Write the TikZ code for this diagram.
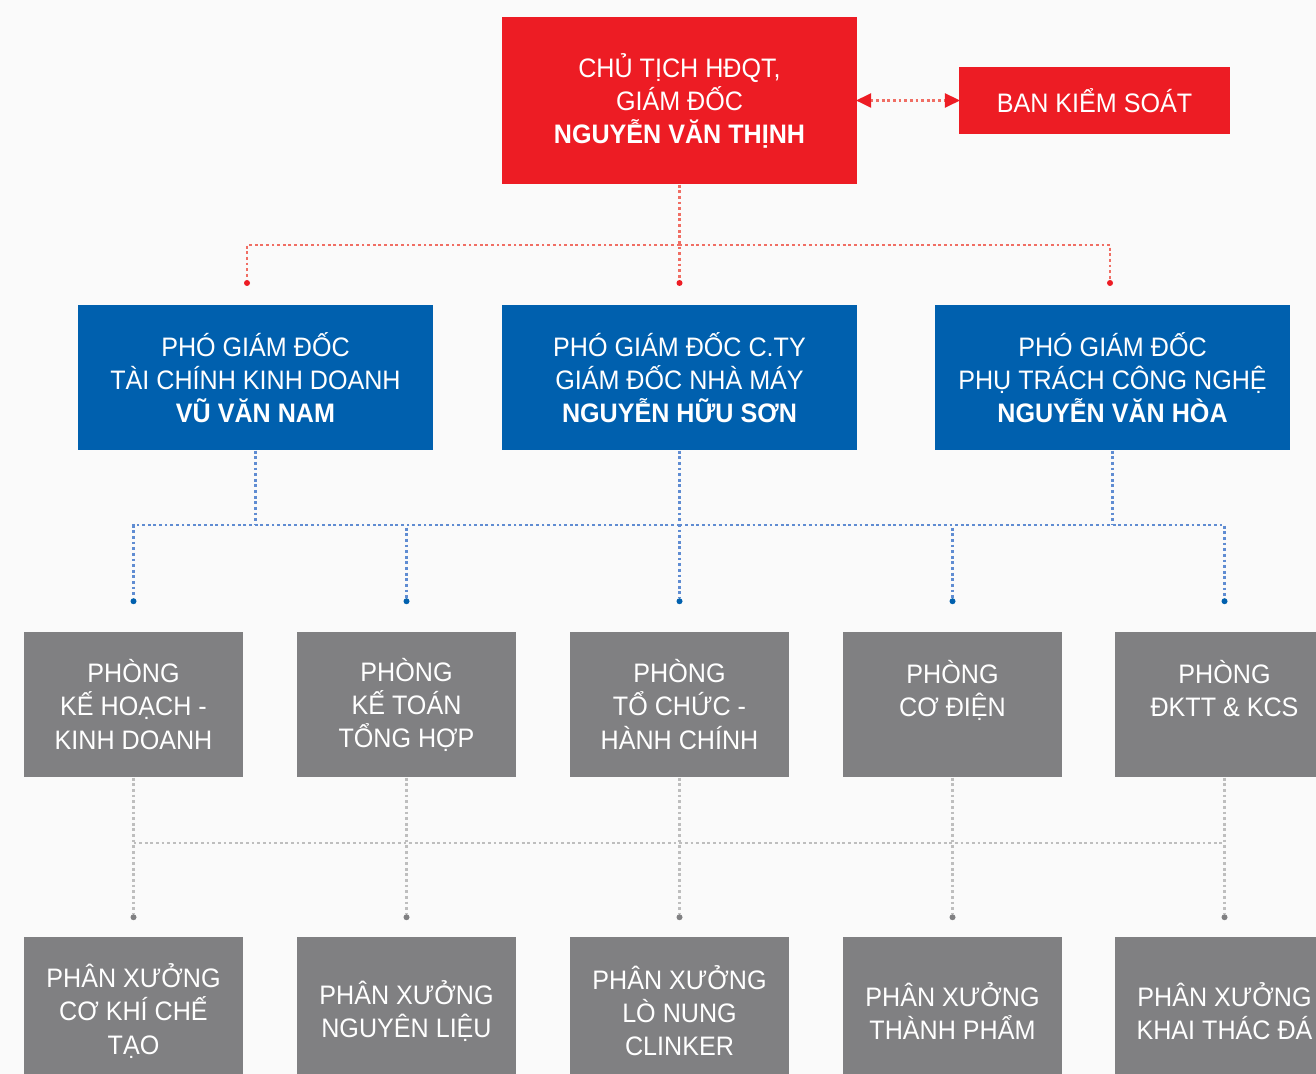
\documentclass[tikz,border=0pt]{standalone}
\usepackage{fontspec}
\setmainfont{Liberation Sans}[FakeStretch=0.94]
\usetikzlibrary{arrows.meta}

\definecolor{bossred}{RGB}{237,28,36}
\definecolor{vpblue}{RGB}{0,96,174}
\definecolor{deptgrey}{RGB}{128,128,130}
\definecolor{pagebg}{RGB}{250,250,250}

\begin{document}
\begin{tikzpicture}[x=0.01cm,y=-0.01cm,
			every node/.style={font=\fontsize{7.6}{9.4}\selectfont, text=white, align=center, inner sep=0pt},
			redbox/.style={fill=bossred, minimum height=1.67cm},
			bluebox/.style={fill=vpblue, minimum width=3.55cm, minimum height=1.45cm},
			greybox/.style={fill=deptgrey, minimum width=2.19cm, minimum height=1.45cm},
			dotnode/.style={circle, inner sep=0pt, minimum size=0.06cm},
			redline/.style={draw={rgb,255:red,240;green,110;blue,100}, line width=0.6pt, dash pattern=on 0.8pt off 0.8pt},
			blueline/.style={draw={rgb,255:red,95;green,140;blue,210}, line width=0.6pt, dash pattern=on 0.8pt off 0.8pt},
			greyline/.style={draw={rgb,255:red,190;green,190;blue,190}, line width=0.6pt, dash pattern=on 0.8pt off 0.8pt}]
			\fill[pagebg] (0,0) rectangle (1316,1074);
			\clip (0,0) rectangle (1316,1074);

			% top level
			\node[redbox, minimum width=3.55cm] (chair) at (679.5,100.5)
				{CHỦ TỊCH HĐQT,\\GIÁM ĐỐC\\\textbf{NGUYỄN VĂN THỊNH}};
			\node[redbox, minimum width=2.71cm, minimum height=0.67cm] (control) at (1094.5,100.5)
				{BAN KIỂM SOÁT};
			\draw[redline, {Triangle[length=0.15cm,width=0.14cm,color=bossred,sep=-0.5pt]}-{Triangle[length=0.15cm,width=0.14cm,color=bossred,sep=-0.5pt]}]
				(chair.east) -- (control.west);

			% deputy directors
			\node[bluebox] (vp1) at (255.5,377.5)
				{PHÓ GIÁM ĐỐC\\TÀI CHÍNH KINH DOANH\\\textbf{VŨ VĂN NAM}};
			\node[bluebox] (vp2) at (679.5,377.5)
				{PHÓ GIÁM ĐỐC C.TY\\GIÁM ĐỐC NHÀ MÁY\\\textbf{NGUYỄN HỮU SƠN}};
			\node[bluebox] (vp3) at (1112.5,377.5)
				{PHÓ GIÁM ĐỐC\\PHỤ TRÁCH CÔNG NGHỆ\\\textbf{NGUYỄN VĂN HÒA}};

			% departments
			\node[greybox] (dp1) at (133.5,704.5) {PHÒNG\\KẾ HOẠCH -\\KINH DOANH};
			\node[greybox] (dp2) at (406.5,704.5) {PHÒNG\\KẾ TOÁN\\TỔNG HỢP};
			\node[greybox] (dp3) at (679.5,704.5) {PHÒNG\\TỔ CHỨC -\\HÀNH CHÍNH};
			\node[greybox] (dp4) at (952.5,704.5) {PHÒNG\\CƠ ĐIỆN\\\mbox{}};
			\node[greybox] (dp5) at (1224.5,704.5) {PHÒNG\\ĐKTT \& KCS\\\mbox{}};

			% workshops
			\node[greybox, minimum height=1.48cm] (ws1) at (133.5,1011) {PHÂN XƯỞNG\\CƠ KHÍ CHẾ\\TẠO};
			\node[greybox, minimum height=1.48cm] (ws2) at (406.5,1011) {PHÂN XƯỞNG\\NGUYÊN LIỆU};
			\node[greybox, minimum height=1.48cm] (ws3) at (679.5,1011) {PHÂN XƯỞNG\\LÒ NUNG\\CLINKER};
			\node[greybox, minimum height=1.48cm] (ws4) at (952.5,1011) {PHÂN XƯỞNG\\THÀNH PHẨM};
			\node[greybox, minimum height=1.48cm] (ws5) at (1224.5,1011) {PHÂN XƯỞNG\\KHAI THÁC ĐÁ};

			% red connectors
			\coordinate (redbus) at (679.5,245);
			\foreach \i/\xx in {1/247,2/679.5,3/1110}
				\node[dotnode, fill=bossred] (rd\i) at (\xx,283) {};
			\draw[redline] (chair.south) -- (rd2);
			\draw[redline] (redbus) -| (rd1);
			\draw[redline] (redbus) -| (rd3);

			% blue connectors
			\coordinate (bluebus) at (679.5,525);
			\foreach \i in {1,...,5}
				\node[dotnode, fill=vpblue] (bd\i) at ([yshift=3mm]dp\i.north) {};
			\draw[blueline] (vp1.south) -- (vp1.south |- bluebus);
			\draw[blueline] (vp3.south) -- (vp3.south |- bluebus);
			\draw[blueline] (vp2.south) -- (bd3);
			\foreach \i in {1,2,4,5}
				\draw[blueline] (bluebus) -| (bd\i);

			% grey connectors
			\coordinate (greybus) at (679.5,843);
			\foreach \i in {1,...,5}{
				\node[dotnode, fill=deptgrey] (gd\i) at ([yshift=1.9mm]ws\i.north) {};
				\draw[greyline] (dp\i.south) -- (gd\i);
			}
			\draw[greyline] (dp1.south |- greybus) -- (dp5.south |- greybus);
\end{tikzpicture}
\end{document}
